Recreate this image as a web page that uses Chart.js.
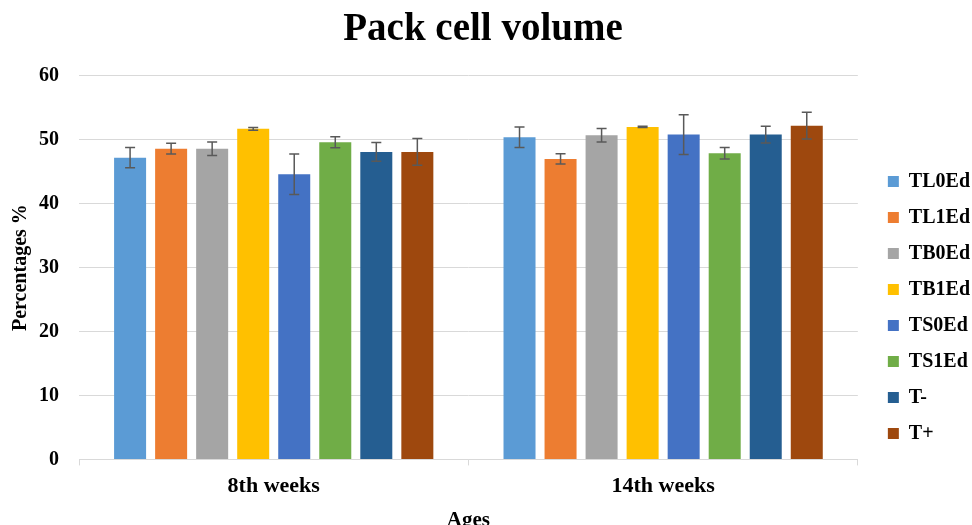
<!DOCTYPE html>
<html>
<head>
<meta charset="utf-8">
<script src="https://cdn.jsdelivr.net/npm/chart.js@4.4.0/dist/chart.umd.min.js"></script>
<style>
  html, body { margin: 0; padding: 0; background: #fff; overflow: hidden; }
  #wrap { width: 972px; height: 536px; position: relative; }
</style>
</head>
<body>
<div id="wrap"><canvas id="pcvChart"></canvas></div>
<script>
// data
const ages = ["8th weeks", "14th weeks"];
const groups = ["TL0Ed", "TL1Ed", "TB0Ed", "TB1Ed", "TS0Ed", "TS1Ed", "T-", "T+"];
const colors = ["#5B9BD5", "#ED7D31", "#A5A5A5", "#FFC000", "#4472C4", "#70AD47", "#255E91", "#9E480E"];

const tl0Ed = [47.2, 50.4];
const tl1Ed = [48.6, 47.0];
const tb0Ed = [48.6, 50.7];
const tb1Ed = [51.7, 52.0];
const ts0Ed = [44.6, 50.8];
const ts1Ed = [49.6, 47.9];
const tMinus = [48.1, 50.8];
const tPlus = [48.1, 52.2];

// standard error (half length of each error bar)
const tl0EdErr = [1.6, 1.6];
const tl1EdErr = [0.85, 0.8];
const tb0EdErr = [1.05, 1.05];
const tb1EdErr = [0.2, 0.1];
const ts0EdErr = [3.15, 3.1];
const ts1EdErr = [0.85, 0.9];
const tMinusErr = [1.45, 1.3];
const tPlusErr = [2.1, 2.1];

const yTicks = [0, 10, 20, 30, 40, 50, 60];

const values = [tl0Ed, tl1Ed, tb0Ed, tb1Ed, ts0Ed, ts1Ed, tMinus, tPlus];
const errors = [tl0EdErr, tl1EdErr, tb0EdErr, tb1EdErr, ts0EdErr, ts1EdErr, tMinusErr, tPlusErr];

const serif = "'Liberation Serif', 'Times New Roman', serif";

// =============================
// Error bars drawn on top of each bar
// =============================
const errorBars = {
  id: "errorBars",
  afterDatasetsDraw(chart) {
    const ctx = chart.ctx;
    const yScale = chart.scales.y;
    ctx.save();
    ctx.strokeStyle = "#595959";
    ctx.lineWidth = 1.5;
    chart.data.datasets.forEach((ds, i) => {
      const meta = chart.getDatasetMeta(i);
      meta.data.forEach((bar, j) => {
        const v = ds.data[j];
        const e = ds.errors[j];
        const yHi = yScale.getPixelForValue(v + e);
        const yLo = yScale.getPixelForValue(v - e);
        const x = bar.x;
        ctx.beginPath();
        ctx.moveTo(x, yHi); ctx.lineTo(x, yLo);
        ctx.moveTo(x - 5, yHi); ctx.lineTo(x + 5, yHi);
        ctx.moveTo(x - 5, yLo); ctx.lineTo(x + 5, yLo);
        ctx.stroke();
      });
    });
    ctx.restore();
  }
};

// nudge the legend column so it sits where the Excel legend sits
const legendNudge = {
  id: "legendNudge",
  afterLayout(chart) {
    const lg = chart.legend;
    lg.left += 14; lg.right += 14;
    lg.top += 41; lg.bottom += 41;
  }
};

const ctx = document.getElementById("pcvChart").getContext("2d");
new Chart(ctx, {
  type: "bar",
  data: {
    labels: ages,
    datasets: groups.map((g, i) => ({
      label: g,
      data: values[i],
      errors: errors[i],
      backgroundColor: colors[i],
      borderWidth: 0,
      categoryPercentage: 0.843,
      barPercentage: 0.78
    }))
  },
  options: {
    responsive: true,
    maintainAspectRatio: false,
    animation: false,
    layout: { padding: { left: 0, right: 6, top: 0, bottom: 3 } },
    plugins: {
      title: {
        display: true,
        text: "Pack cell volume",
        color: "#000",
        font: { family: serif, size: 39, weight: "bold" },
        padding: { top: 7, bottom: 22 }
      },
      legend: {
        position: "right",
        align: "center",
        labels: {
          color: "#000",
          font: { family: serif, size: 20, weight: "bold" },
          boxWidth: 11,
          boxHeight: 11,
          padding: 16
        }
      },
      tooltip: { enabled: false }
    },
    scales: {
      x: {
        grid: {
          display: true,
          drawOnChartArea: false,
          drawTicks: true,
          tickLength: 6,
          offset: true,
          color: "#D9D9D9"
        },
        border: { display: true, color: "#D9D9D9" },
        ticks: {
          color: "#000",
          font: { family: serif, size: 22, weight: "bold" },
          padding: 8
        },
        title: {
          display: true,
          text: "Ages",
          color: "#000",
          font: { family: serif, size: 21, weight: "bold" },
          padding: { top: 0, bottom: 0 }
        }
      },
      y: {
        min: 0,
        max: 60,
        afterBuildTicks(axis) {
          axis.ticks = yTicks.map(v => ({ value: v }));
        },
        afterFit(axis) {
          axis.width = 79;
        },
        grid: { color: "#D9D9D9", drawTicks: false },
        border: { display: false },
        ticks: {
          color: "#000",
          font: { family: serif, size: 20, weight: "bold" },
          padding: 20
        },
        title: {
          display: true,
          text: "Percentages %",
          color: "#000",
          font: { family: serif, size: 20, weight: "bold" },
          padding: { top: 9, bottom: 0 }
        }
      }
    }
  },
  plugins: [errorBars, legendNudge]
});
</script>
</body>
</html>
